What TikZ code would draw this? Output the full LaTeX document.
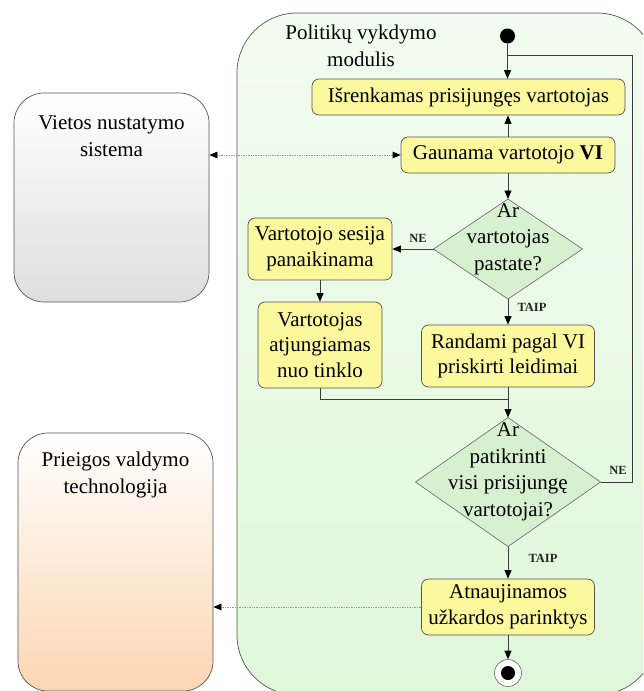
\documentclass[tikz,border=0pt]{standalone}
\usepackage{fontspec}
\setmainfont{Liberation Serif}
\usetikzlibrary{shapes.geometric,arrows.meta}

\definecolor{linegray}{RGB}{60,60,60}
\definecolor{boxedge}{RGB}{85,85,85}
\definecolor{stepfill}{RGB}{252,248,158}
\definecolor{decfill}{RGB}{214,240,208}
\definecolor{poolTop}{RGB}{242,252,240}
\definecolor{poolBot}{RGB}{224,247,218}
\definecolor{peach}{RGB}{252,214,178}
\definecolor{grayBot}{RGB}{222,222,222}

\tikzset{
  stepbox/.style={draw=boxedge, line width=0.7pt, fill=stepfill, rounded corners=7pt,
    inner sep=0pt, align=center, font=\fontsize{21}{25.5}\selectfont},
  decbox/.style={draw=gray!80!black, line width=0.6pt, fill=decfill, diamond,
    inner sep=0pt, outer sep=0pt},
  dectext/.style={align=center, font=\fontsize{21}{26.5}\selectfont},
  flow/.style={draw=linegray, line width=0.8pt},
  arr/.style={flow, -{Triangle[length=8.5pt,width=7pt,color=black]}},
  msg/.style={draw=gray!80, line width=0.7pt, densely dotted},
  msgtip/.tip={Triangle[length=8pt,width=6.5pt,color=black]},
  guard/.style={font=\fontsize{12.5}{14}\selectfont\bfseries, text=black!85},
  sysbox/.style={draw=boxedge, line width=0.7pt, rounded corners=30pt},
  systext/.style={align=center, font=\fontsize{21}{27}\selectfont}
}

\begin{document}
\begin{tikzpicture}[x=1pt,y=-1pt]
\useasboundingbox (0,0) rectangle (643,691);
\clip (0,0) rectangle (643,691);

% swimlane of the policy module
\node[draw=boxedge, line width=0.7pt, rounded corners=60pt, top color=poolTop, bottom color=poolBot,
  minimum width=420pt, minimum height=682pt, inner sep=0pt] (pool) at (447,354) {};
\node[align=center, font=\fontsize{21}{27}\selectfont] (title) at (361,46) {Politikų vykdymo\\modulis};

% external systems
\node[sysbox, top color=white, bottom color=grayBot, minimum width=195pt, minimum height=209pt] (viet) at (111.5,197.5) {};
\node[systext] (vietT) at (111.5,136) {Vietos nustatymo\\sistema};
\node[sysbox, top color=white, bottom color=peach, minimum width=195pt, minimum height=258pt] (prieig) at (115.5,562) {};
\node[systext] (prieigT) at (115.5,475) {Prieigos valdymo\\technologija};

% activities
\node[circle, fill=black, minimum size=15pt, inner sep=0pt] (start) at (507.5,36) {};
\node[stepbox, minimum width=313pt, minimum height=36pt] (b1) at (468.5,97) {Išrenkamas prisijungęs vartotojas};
\node[stepbox, minimum width=214pt, minimum height=36pt] (b2) at (508,155) {Gaunama vartotojo \textbf{VI}};
\node[decbox, minimum width=149pt, minimum height=100pt] (d1) at (508,249) {};
\node[dectext] (d1T) at (508,239) {Ar\\vartotojas\\pastate?};
\node[stepbox, minimum width=144pt, minimum height=62pt] (b3) at (320,249) {Vartotojo sesija\\panaikinama};
\node[stepbox, minimum width=124pt, minimum height=86pt] (b4) at (320,345) {Vartotojas\\atjungiamas\\nuo tinklo};
\node[stepbox, minimum width=173pt, minimum height=62pt] (b5) at (508,356) {Randami pagal VI\\priskirti leidimai};
\node[decbox, minimum width=185pt, minimum height=129pt] (d2) at (508,482) {};
\node[dectext] (d2T) at (508,472) {Ar\\patikrinti\\visi prisijungę\\vartotojai?};
\node[stepbox, minimum width=173pt, minimum height=56pt] (b6) at (508,607) {Atnaujinamos\\užkardos parinktys};
\node[circle, draw=gray!80!black, line width=0.6pt, fill=white, minimum size=27pt, inner sep=0pt] (end) at (508,673) {};
\node[circle, fill=black, minimum size=14pt, inner sep=0pt] (endDot) at (end.center) {};

% guard labels
\node[guard] (ne1) at (418,238) {NE};
\node[guard] (taip1) at (532,307) {TAIP};
\node[guard] (ne2) at (618,470) {NE};
\node[guard] (taip2) at (543,558) {TAIP};

% control flow
\coordinate (loopTop) at (507.5,55);
\coordinate (loopCorner) at (632,55);
\coordinate (merge) at (508,399);
\draw[arr] (start) -- (start |- b1.north);
\draw[flow] (d2.east) -| (loopCorner) -- (loopTop);
\draw[arr] (b2.north) -- (b2.north |- b1.south);
\draw[arr] (b2.south) -- (d1.north);
\draw[arr] (d1.west) -- (b3.east);
\draw[arr] (d1.south) -- (b5.north);
\draw[arr] (b3.south) -- (b4.north);
\draw[flow] (b4.south) |- (merge);
\draw[arr] (b5.south) -- (d2.north);
\draw[arr] (d2.south) -- (b6.north);
\draw[arr] (b6.south) -- (end.north);

% messages to external systems
\draw[msg, msgtip-msgtip] (viet.east |- b2.west) -- (b2.west);
\draw[msg, -msgtip] (b6.west) -- (b6.west -| prieig.east);
\end{tikzpicture}
\end{document}
